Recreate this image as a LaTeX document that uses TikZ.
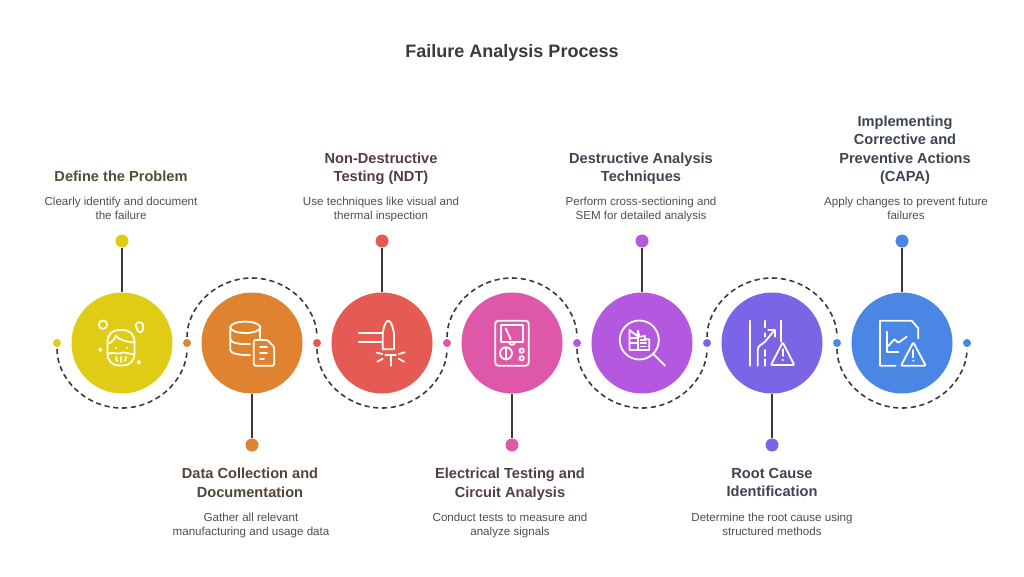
\documentclass[tikz,border=0pt]{standalone}
\usepackage{fontspec}
\setmainfont{Liberation Sans}
\usetikzlibrary{positioning}
\definecolor{cyellow}{HTML}{E0CC15}
\definecolor{corange}{HTML}{DF8330}
\definecolor{cred}{HTML}{E55A52}
\definecolor{cpink}{HTML}{DE57A8}
\definecolor{cpurple}{HTML}{B558E0}
\definecolor{cviolet}{HTML}{7C64E6}
\definecolor{cblue}{HTML}{4A86E4}
\definecolor{line}{HTML}{3A3A3A}
\begin{document}
\begin{tikzpicture}[x=1pt,y=-1pt,
                ball/.style={circle,minimum size=101pt,inner sep=0pt,fill=#1},
                knob/.style={circle,minimum size=13pt,inner sep=0pt,fill=#1},
                bead/.style={circle,minimum size=8pt,inner sep=0pt,fill=#1},
                stem/.style={draw=line,line width=1.6pt},
                trail/.style={draw=line,line width=1.6pt,dash pattern=on 5.2pt off 3.6pt,
                        shorten <=6pt,shorten >=6pt},
                head/.style={align=center,font=\fontsize{14.6}{18.5}\selectfont\bfseries,inner sep=0pt,
                        text=#1!14!line,execute at begin node=\strut,execute at end node=\strut},
                note/.style={align=center,font=\fontsize{11.6}{14}\selectfont,text=line!90,inner sep=0pt,
                        execute at begin node=\strut,execute at end node=\strut},
                icon/.style={draw=white!96!yellow,line width=1.8pt,line join=round,line cap=round}]
    \useasboundingbox (0,0) rectangle (1024,576);
    \node[font=\fontsize{18}{22}\selectfont\bfseries,text=line] (title) at (512,52.5) {Failure Analysis Process};
    % circles, knobs and beads
    \foreach \n/\cx/\col/\ky in {1/122/cyellow/241,2/252/corange/445,3/382/cred/241,4/512/cpink/445,
            5/642/cpurple/241,6/772/cviolet/445,7/902/cblue/241}{
            \node[ball=\col] (ball\n) at (\cx,343) {};
            \node[knob=\col] (knob\n) at (\cx,\ky) {};
            \draw[stem] (ball\n) -- (knob\n);
        }
    \foreach \n/\cx/\col in {0/57/cyellow,1/187/corange,2/317/cred,3/447/cpink,4/577/cpurple,
            5/707/cviolet,6/837/cblue,7/967/cblue}{
            \node[bead=\col] (bead\n) at (\cx,343) {};
        }
    % dashed way from bead to bead
    \draw[trail] (bead0.center) arc[start angle=180,end angle=360,radius=65pt];
    \draw[trail] (bead1.center) arc[start angle=180,end angle=0,radius=65pt];
    \draw[trail] (bead2.center) arc[start angle=180,end angle=360,radius=65pt];
    \draw[trail] (bead3.center) arc[start angle=180,end angle=0,radius=65pt];
    \draw[trail] (bead4.center) arc[start angle=180,end angle=360,radius=65pt];
    \draw[trail] (bead5.center) arc[start angle=180,end angle=0,radius=65pt];
    \draw[trail] (bead6.center) arc[start angle=180,end angle=360,radius=65pt];
    % texts above
    \node[note,anchor=south] (note1) at (121,224) {Clearly identify and document\\the failure};
    \node[head=cyellow,above=9.7pt of note1] (head1) {Define the Problem};
    \node[note,anchor=south] (note3) at (381,224) {Use techniques like visual and\\thermal inspection};
    \node[head=cred,above=9.7pt of note3] (head3) {Non-Destructive\\Testing (NDT)};
    \node[note,anchor=south] (note5) at (641,224) {Perform cross-sectioning and\\SEM for detailed analysis};
    \node[head=cpurple,above=9.7pt of note5] (head5) {Destructive Analysis\\Techniques};
    \node[note,anchor=south] (note7) at (906,224) {Apply changes to prevent future\\failures};
    \node[head=cblue,above=9.7pt of note7,xshift=-1pt] (head7) {Implementing\\Corrective and\\Preventive Actions\\(CAPA)};
    % texts below
    \node[head=corange,anchor=north] (head2) at (250,468) {Data Collection and\\Documentation};
    \node[note,below=10pt of head2,xshift=1pt] (note2) {Gather all relevant\\manufacturing and usage data};
    \node[head=cpink,anchor=north] (head4) at (510,468) {Electrical Testing and\\Circuit Analysis};
    \node[note,below=10pt of head4] (note4) {Conduct tests to measure and\\analyze signals};
    \node[head=cviolet,anchor=north] (head6) at (772,468) {Root Cause\\Identification};
    \node[note,below=10pt of head6] (note6) {Determine the root cause using\\structured methods};
    % icon 1, face
    \begin{scope}[shift={(ball1.center)},icon]
        \draw (-19,-18.3) circle[radius=4.2];
        \draw (15,-20) .. controls (18,-22) and (22,-20) .. (21,-16) .. controls (20.5,-14) and (22,-12) .. (19,-10.5)
        .. controls (16,-10) and (15,-13) .. (15,-15) .. controls (13,-16) and (13,-19) .. (15,-20);
        \draw[rounded corners=11] (-14.5,-13) rectangle (12.5,22.5);
        \draw (-14.5,1) .. controls (-10,0) and (-8,-4) .. (-6,-7) .. controls (-3,-3) and (5,-1) .. (12.5,-0.5);
        \draw (-14.5,11) .. controls (-9,8) and (-5,12) .. (-1,10) .. controls (3,8) and (8,12) .. (12.5,11);
        \draw (-6,14) -- (-5,18) (-1,14) -- (-1,19) (4,14) -- (3,18);
        \fill[white,draw=none] (-6,5) circle[radius=1.2] (5,5) circle[radius=1.2]
        (-21.6,6.7) circle[radius=2] (17,19.3) circle[radius=2];
    \end{scope}
    % icon 2, database and sheet
    \begin{scope}[shift={(ball2.center)},icon]
        \draw (-6.7,-15.7) ellipse[x radius=15,y radius=5.7];
        \draw (-21.7,-15.7) -- (-21.7,7) .. controls (-21.7,10) and (-14,12.5) .. (-2,12);
        \draw (-21.7,-4) .. controls (-21.7,0) and (-12,1.5) .. (-2,1);
        \draw (8.3,-15.7) -- (8.3,-4);
        \draw[rounded corners=1.5] (1.7,22.7) -- (1.7,-3) -- (15.5,-3) -- (22.3,4) -- (22.3,22.7) -- cycle;
        \draw (8,4.3) -- (15,4.3) (8,10.3) -- (15,10.3) (8,16.3) -- (12,16.3);
    \end{scope}
    % icon 3, bullet and sparks
    \begin{scope}[shift={(ball3.center)},icon]
        \draw (0.7,6.3) -- (0.7,-9.7) .. controls (1.5,-14) and (3,-22.3) .. (6.3,-22.3)
        .. controls (9.5,-22.3) and (11.2,-14) .. (12,-9.7) -- (12,6.3) -- cycle;
        \draw (-23.3,-9.7) -- (0.7,-9.7) (-23.3,-1) -- (0.7,-1);
        \draw (3.3,12) -- (14,12) (8.7,12) -- (8.7,22.7);
        \draw (-5.3,9.7) -- (0.3,11) (-4.7,18.7) -- (0.7,15.7) (16.7,11) -- (22.7,9.3) (16.7,15.7) -- (22,18.7);
    \end{scope}
    % icon 4, meter
    \begin{scope}[shift={(ball4.center)},icon]
        \draw[rounded corners=3] (-16.7,-22.3) rectangle (16.7,22.7);
        \draw (-10.7,-18.3) rectangle (10.7,-1.3);
        \draw (-6.3,-14.7) -- (-1.3,-3.7);
        \draw (-3.2,-1.3) arc[start angle=180,end angle=0,radius=3.2];
        \draw (-6,10.3) circle[radius=6] (-6,4) -- (-6,17);
        \draw (9.7,7.7) circle[radius=2.2] (9.7,15.3) circle[radius=2.2];
    \end{scope}
    % icon 5, lens over buildings
    \begin{scope}[shift={(ball5.center)},icon]
        \draw (-2.7,-3) circle[radius=19.5];
        \draw (11.3,11) -- (23,22.7);
        \draw (-12.5,7) -- (-12.5,-13) -- (-4.7,-7) -- (-4,-12.5) -- (-2.7,-6.3) -- (3,-7) -- (3,-3.7) -- (7.3,-3.7) -- (7.3,7) -- cycle;
        \draw (-4,-12.5) -- (-4,7);
        \draw (-12.5,-4.7) -- (-4,-4.7) (-12.5,0.3) -- (-4,0.3);
        \draw (-1.3,-3) -- (4,-3) (-1.3,0.3) -- (4,0.3) (-1.3,3.5) -- (4,3.5);
    \end{scope}
    % icon 6, road and warning
    \begin{scope}[shift={(ball6.center)},icon]
        \draw (-21.7,-22.3) -- (-21.7,22.7) (8.7,-22.3) -- (8.7,-1.3);
        \draw (-7,-22.3) -- (-7,-15.7) (-7,-9.7) -- (-7,-6.3) (-7,7) -- (-7,13) (-7,16.3) -- (-7,22.7);
        \draw (-14.3,22.7) -- (-14.3,7) .. controls (-14.3,2) and (-9,1) .. (-7,-1.3) -- (2.7,-13);
        \draw (-3.7,-13) -- (2.7,-13) -- (2.7,-6.3);
        \draw[rounded corners=1] (10.7,-0.7) -- (22.3,22) -- (-1,22) -- cycle;
        \draw (10.7,6.3) -- (10.7,13);
        \fill[white,draw=none] (10.7,17) circle[radius=1.1];
    \end{scope}
    % icon 7, chart sheet and warning
    \begin{scope}[shift={(ball7.center)},icon]
        \draw (-6.3,22.7) -- (-22,22.7) -- (-22,-22.3) -- (9.7,-22.3) -- (16.3,-14.7) -- (16.3,-4.7);
        \draw (-14.7,-11.3) -- (-14.7,8.7) -- (-3.7,8.7);
        \draw (-13.7,3) -- (-7.7,-3.7) -- (-3.7,-0.3) -- (4.7,-6.3);
        \draw[rounded corners=1] (11.3,-0.7) -- (23.7,22.7) -- (-1,22.7) -- cycle;
        \draw (11.3,7) -- (11.3,14.3);
        \fill[white,draw=none] (11.3,17.7) circle[radius=1.1];
    \end{scope}
\end{tikzpicture}
\end{document}
